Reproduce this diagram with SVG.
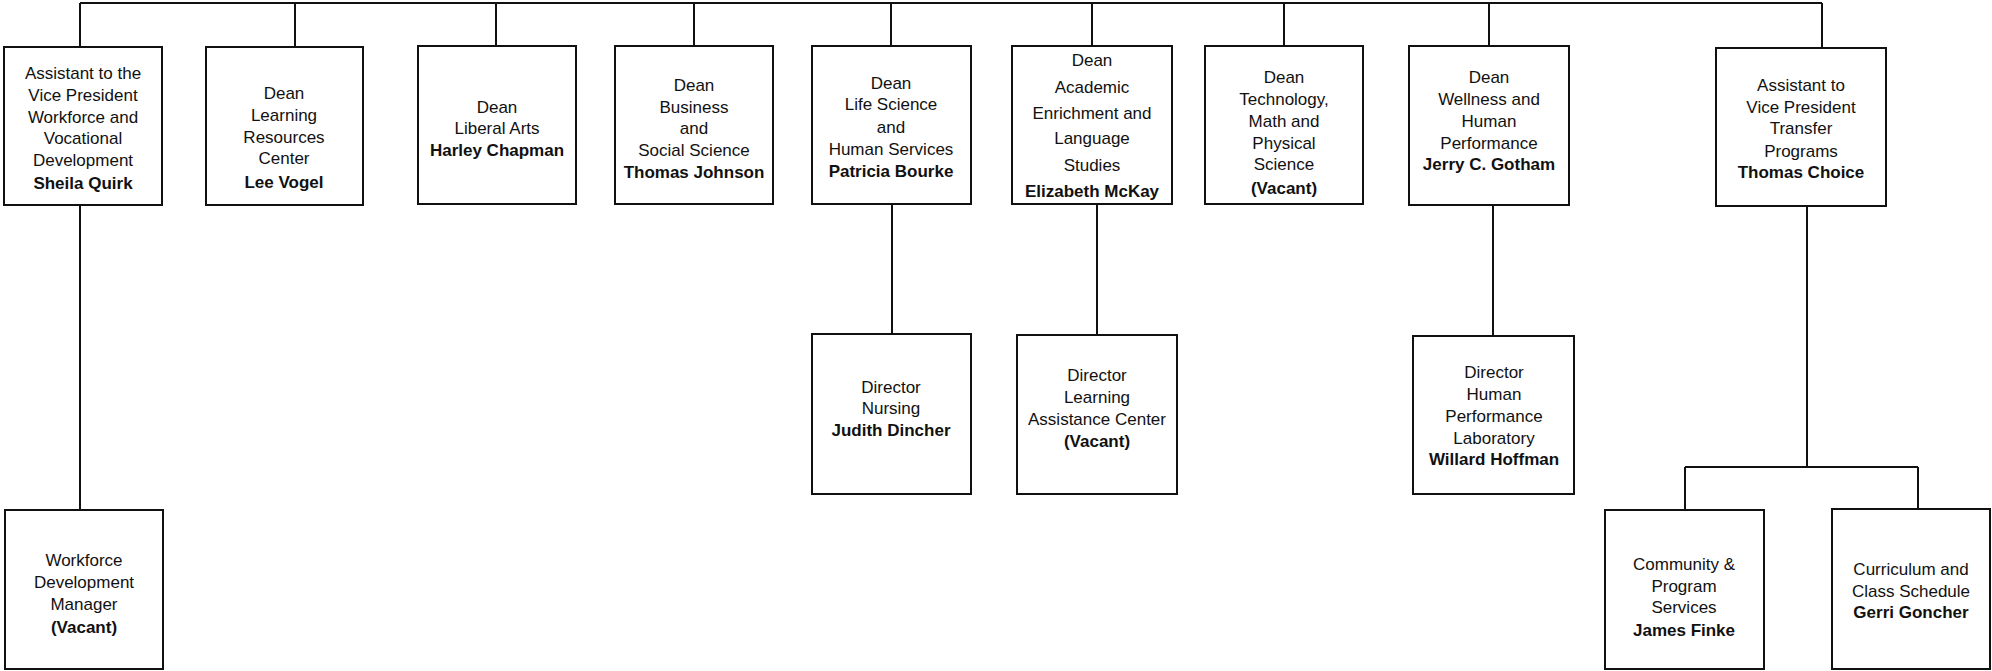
<svg xmlns="http://www.w3.org/2000/svg" width="1992" height="671" viewBox="0 0 1992 671">
<style>
.box{fill:#fff;stroke:#111;stroke-width:2}
.ln{fill:none;stroke:#111;stroke-width:2}
text{font-family:"Liberation Sans",Arial,sans-serif;font-size:17px;fill:#111;text-anchor:middle}
.b{font-weight:bold}
</style>
<rect width="1992" height="671" fill="#fff"/>
<g id="connectors">
<path class="ln" d="M80,3H1822M80,3V47M295,3V47M496,3V46M694,3V46M891,3V46M1092,3V46M1284,3V46M1489,3V46M1822,3V48"/>
<path class="ln" d="M80,205V510M892,204V334M1097,204V335M1493,205V336"/>
<path class="ln" d="M1807,206V467M1685,467H1918M1685,467V510M1918,467V509"/>
</g>
<g id="n-quirk"><rect class="box" x="4" y="47" width="158" height="158"/>
<text x="83" y="79">Assistant to the</text><text x="83" y="101">Vice President</text><text x="83" y="123">Workforce and</text><text x="83" y="144">Vocational</text><text x="83" y="166">Development</text><text class="b" x="83" y="189">Sheila Quirk</text></g>
<g id="n-vogel"><rect class="box" x="206" y="47" width="157" height="158"/>
<text x="284" y="99">Dean</text><text x="284" y="121">Learning</text><text x="284" y="143">Resources</text><text x="284" y="164">Center</text><text class="b" x="284" y="188">Lee Vogel</text></g>
<g id="n-chapman"><rect class="box" x="418" y="46" width="158" height="158"/>
<text x="497" y="113">Dean</text><text x="497" y="134">Liberal Arts</text><text class="b" x="497" y="156">Harley Chapman</text></g>
<g id="n-johnson"><rect class="box" x="615" y="46" width="158" height="158"/>
<text x="694" y="91">Dean</text><text x="694" y="113">Business</text><text x="694" y="134">and</text><text x="694" y="156">Social Science</text><text class="b" x="694" y="178">Thomas Johnson</text></g>
<g id="n-bourke"><rect class="box" x="812" y="46" width="159" height="158"/>
<text x="891" y="89">Dean</text><text x="891" y="110">Life Science</text><text x="891" y="133">and</text><text x="891" y="155">Human Services</text><text class="b" x="891" y="177">Patricia Bourke</text></g>
<g id="n-mckay"><rect class="box" x="1012" y="46" width="160" height="158"/>
<text x="1092" y="66">Dean</text><text x="1092" y="93">Academic</text><text x="1092" y="119">Enrichment and</text><text x="1092" y="144">Language</text><text x="1092" y="171">Studies</text><text class="b" x="1092" y="197">Elizabeth McKay</text></g>
<g id="n-tech"><rect class="box" x="1205" y="46" width="158" height="158"/>
<text x="1284" y="83">Dean</text><text x="1284" y="105">Technology,</text><text x="1284" y="127">Math and</text><text x="1284" y="149">Physical</text><text x="1284" y="170">Science</text><text class="b" x="1284" y="194">(Vacant)</text></g>
<g id="n-gotham"><rect class="box" x="1409" y="46" width="160" height="159"/>
<text x="1489" y="83">Dean</text><text x="1489" y="105">Wellness and</text><text x="1489" y="127">Human</text><text x="1489" y="149">Performance</text><text class="b" x="1489" y="170">Jerry C. Gotham</text></g>
<g id="n-choice"><rect class="box" x="1716" y="48" width="170" height="158"/>
<text x="1801" y="91">Assistant to</text><text x="1801" y="113">Vice President</text><text x="1801" y="134">Transfer</text><text x="1801" y="157">Programs</text><text class="b" x="1801" y="178">Thomas Choice</text></g>
<g id="n-wdm"><rect class="box" x="5" y="510" width="158" height="159"/>
<text x="84" y="566">Workforce</text><text x="84" y="588">Development</text><text x="84" y="610">Manager</text><text class="b" x="84" y="633">(Vacant)</text></g>
<g id="n-dincher"><rect class="box" x="812" y="334" width="159" height="160"/>
<text x="891" y="393">Director</text><text x="891" y="414">Nursing</text><text class="b" x="891" y="436">Judith Dincher</text></g>
<g id="n-lac"><rect class="box" x="1017" y="335" width="160" height="159"/>
<text x="1097" y="381">Director</text><text x="1097" y="403">Learning</text><text x="1097" y="425">Assistance Center</text><text class="b" x="1097" y="447">(Vacant)</text></g>
<g id="n-hoffman"><rect class="box" x="1413" y="336" width="161" height="158"/>
<text x="1494" y="378">Director</text><text x="1494" y="400">Human</text><text x="1494" y="422">Performance</text><text x="1494" y="444">Laboratory</text><text class="b" x="1494" y="465">Willard Hoffman</text></g>
<g id="n-finke"><rect class="box" x="1605" y="510" width="159" height="159"/>
<text x="1684" y="570">Community &amp;</text><text x="1684" y="592">Program</text><text x="1684" y="613">Services</text><text class="b" x="1684" y="636">James Finke</text></g>
<g id="n-goncher"><rect class="box" x="1832" y="509" width="158" height="160"/>
<text x="1911" y="575">Curriculum and</text><text x="1911" y="597">Class Schedule</text><text class="b" x="1911" y="618">Gerri Goncher</text></g>
</svg>
